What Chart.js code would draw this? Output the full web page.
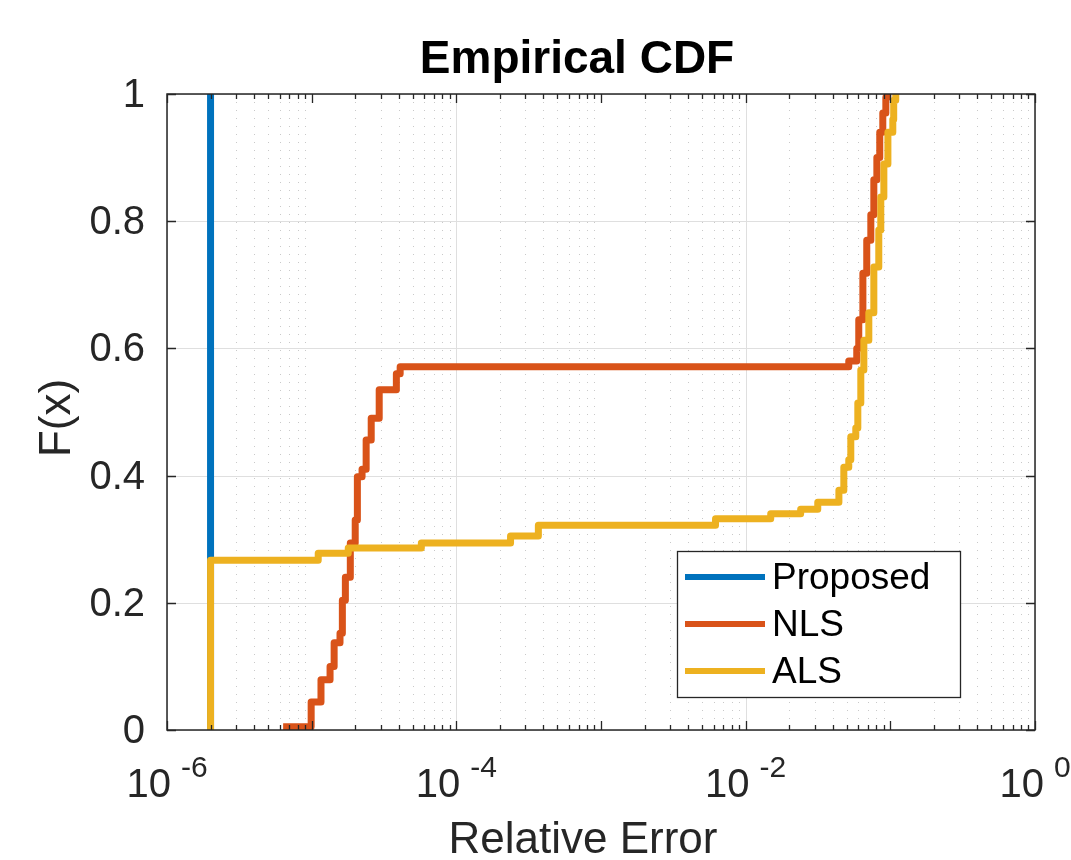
<!DOCTYPE html>
<html>
<head>
<meta charset="utf-8">
<title>Empirical CDF</title>
<script src="https://cdn.jsdelivr.net/npm/chart.js@4.4.1/dist/chart.umd.min.js"></script>
<style>
  body { margin: 0; background: #fff; }
  #wrap { width: 1071px; height: 860px; position: relative; }
</style>
</head>
<body>
<div id="wrap"><canvas id="cdfChart"></canvas></div>
<script>
// series: relative error (x) and F(x) after each step
const seriesNames = ['Proposed', 'NLS', 'ALS'];

const proposedErr = [2.0e-6, 2.0e-6];
const proposedF   = [0, 1];

const nlsErr = [6.35e-6, 9.92e-6, 1.16e-5, 1.34e-5, 1.43e-5, 1.57e-5, 1.63e-5, 1.71e-5,
                1.85e-5, 2.00e-5, 2.07e-5, 2.23e-5, 2.38e-5, 2.58e-5, 2.93e-5, 3.85e-5,
                4.09e-5, 5.16e-2, 5.86e-2, 6.05e-2, 6.46e-2, 6.87e-2, 7.33e-2, 7.69e-2,
                8.07e-2, 8.45e-2, 8.87e-2, 9.31e-2, 9.6e-2];
const nlsF   = [0.005, 0.044, 0.079, 0.100, 0.137, 0.152, 0.204, 0.240,
                0.294, 0.330, 0.398, 0.410, 0.456, 0.490, 0.535, 0.560,
                0.571, 0.580, 0.600, 0.645, 0.718, 0.770, 0.810, 0.865,
                0.900, 0.940, 0.970, 0.995, 1.0];

const alsErr = [2.0e-6, 2.0e-6, 1.11e-5, 1.79e-5, 5.73e-5, 2.37e-4, 3.69e-4, 6.19e-3,
                1.49e-2, 2.40e-2, 3.15e-2, 4.41e-2, 4.77e-2, 5.16e-2, 5.33e-2, 5.77e-2,
                5.96e-2, 6.25e-2, 6.56e-2, 7.10e-2, 7.69e-2, 8.32e-2, 8.59e-2, 9.02e-2,
                9.62e-2, 0.104, 0.1055, 0.109];
const alsF   = [0, 0.267, 0.278, 0.286, 0.294, 0.305, 0.322, 0.332,
                0.340, 0.347, 0.358, 0.377, 0.413, 0.425, 0.461, 0.475,
                0.514, 0.566, 0.613, 0.656, 0.728, 0.786, 0.838, 0.890,
                0.940, 0.960, 0.990, 1.0];

const xTickExps = [-6, -4, -2, 0];
const yTicks = [0, 0.2, 0.4, 0.6, 0.8, 1];

const colors = ['#0072BD', '#D95319', '#EDB120'];
const FONT = '"Liberation Sans", Arial, Helvetica, sans-serif';
const AXIS = '#262626';

function toPoints(xs, ys) {
    return xs.map((x, i) => ({ x: x, y: ys[i] }));
}

// grid, box, ticks and labels drawn like a MATLAB axes
const matlabAxes = {
    id: 'matlabAxes',
    beforeDatasetsDraw(chart) {
        const ctx = chart.ctx;
        const a = chart.chartArea;
        const xs = chart.scales.x, ys = chart.scales.y;
        ctx.save();
        // minor x grid (dotted)
        ctx.strokeStyle = 'rgba(38,38,38,0.25)';
        ctx.lineWidth = 1;
        ctx.setLineDash([1, 7]);
        for (let e = xTickExps[0]; e < xTickExps[xTickExps.length - 1]; e++) {
            for (let m = 2; m <= 9; m++) {
                const px = Math.round(xs.getPixelForValue(m * Math.pow(10, e))) + 0.5;
                ctx.beginPath(); ctx.moveTo(px, a.top); ctx.lineTo(px, a.bottom); ctx.stroke();
            }
        }
        // major grid
        ctx.setLineDash([]);
        ctx.strokeStyle = '#dfdfdf';
        xTickExps.forEach(e => {
            const px = Math.round(xs.getPixelForValue(Math.pow(10, e))) + 0.5;
            ctx.beginPath(); ctx.moveTo(px, a.top); ctx.lineTo(px, a.bottom); ctx.stroke();
        });
        yTicks.forEach(v => {
            const py = Math.round(ys.getPixelForValue(v)) + 0.5;
            ctx.beginPath(); ctx.moveTo(a.left, py); ctx.lineTo(a.right, py); ctx.stroke();
        });
        ctx.restore();
    },
    afterDraw(chart) {
        const ctx = chart.ctx;
        const a = chart.chartArea;
        const xs = chart.scales.x, ys = chart.scales.y;
        ctx.save();
        // box
        ctx.strokeStyle = AXIS;
        ctx.lineWidth = 1.5;
        ctx.strokeRect(a.left, a.top, a.right - a.left, a.bottom - a.top);
        // ticks
        ctx.lineWidth = 1.3;
        ctx.beginPath();
        for (let e = xTickExps[0]; e <= xTickExps[xTickExps.length - 1]; e++) {
            const px = Math.round(xs.getPixelForValue(Math.pow(10, e))) + 0.5;
            ctx.moveTo(px, a.bottom); ctx.lineTo(px, a.bottom - 9);
            ctx.moveTo(px, a.top); ctx.lineTo(px, a.top + 9);
            if (e === xTickExps[xTickExps.length - 1]) break;
            for (let m = 2; m <= 9; m++) {
                const qx = Math.round(xs.getPixelForValue(m * Math.pow(10, e))) + 0.5;
                ctx.moveTo(qx, a.bottom); ctx.lineTo(qx, a.bottom - 5);
                ctx.moveTo(qx, a.top); ctx.lineTo(qx, a.top + 5);
            }
        }
        yTicks.forEach(v => {
            const py = Math.round(ys.getPixelForValue(v)) + 0.5;
            ctx.moveTo(a.left, py); ctx.lineTo(a.left + 9, py);
            ctx.moveTo(a.right, py); ctx.lineTo(a.right - 9, py);
        });
        ctx.stroke();

        // y tick labels
        ctx.fillStyle = AXIS;
        ctx.font = '40px ' + FONT;
        ctx.textAlign = 'right';
        ctx.textBaseline = 'middle';
        yTicks.forEach(v => {
            ctx.fillText(String(v), 145, ys.getPixelForValue(v) + 2);
        });

        // x tick labels 10^e
        ctx.textBaseline = 'alphabetic';
        ctx.textAlign = 'left';
        xTickExps.forEach(e => {
            const px = xs.getPixelForValue(Math.pow(10, e));
            const exp = e === 0 ? '0' : '-' + Math.abs(e);
            ctx.font = '40px ' + FONT;
            const wBase = ctx.measureText('10').width;
            ctx.font = '30px ' + FONT;
            const wExp = ctx.measureText(exp).width;
            const total = wBase + 10 + wExp;
            const x0 = px - total / 2;
            ctx.font = '40px ' + FONT;
            ctx.fillText('10', x0, 797);
            ctx.font = '30px ' + FONT;
            ctx.fillText(exp, x0 + wBase + 10, 777);
        });

        // axis labels
        ctx.textAlign = 'center';
        ctx.font = '44px ' + FONT;
        ctx.fillText('Relative Error', 583, 853);
        ctx.save();
        ctx.translate(70, 418);
        ctx.rotate(-Math.PI / 2);
        ctx.fillText('F(x)', 0, 0);
        ctx.restore();

        // title
        ctx.fillStyle = '#000';
        ctx.font = 'bold 46px ' + FONT;
        ctx.fillText('Empirical CDF', 577, 73);

        // legend
        const lx = 677, ly = 551, lw = 283, lh = 146;
        ctx.fillStyle = '#fff';
        ctx.fillRect(lx, ly, lw, lh);
        ctx.strokeStyle = AXIS;
        ctx.lineWidth = 1.3;
        ctx.strokeRect(lx + 0.5, ly + 0.5, lw, lh);
        ctx.font = '37px ' + FONT;
        ctx.textAlign = 'left';
        ctx.textBaseline = 'middle';
        chart.data.datasets.forEach((ds, i) => {
            const yy = 577 + i * 47;
            ctx.strokeStyle = ds.borderColor;
            ctx.lineWidth = 6;
            ctx.beginPath(); ctx.moveTo(685, yy); ctx.lineTo(765, yy); ctx.stroke();
            ctx.fillStyle = '#000';
            ctx.fillText(ds.label, 772, yy + 2);
        });
        ctx.restore();
    }
};

const ctx = document.getElementById('cdfChart').getContext('2d');
const cdfChart = new Chart(ctx, {
    type: 'line',
    data: {
        datasets: [
            { label: seriesNames[0], data: toPoints(proposedErr, proposedF), borderColor: colors[0], order: 2 },
            { label: seriesNames[1], data: toPoints(nlsErr, nlsF), borderColor: colors[1], order: 1 },
            { label: seriesNames[2], data: toPoints(alsErr, alsF), borderColor: colors[2], order: 0 }
        ]
    },
    options: {
        responsive: true,
        maintainAspectRatio: false,
        animation: false,
        layout: { padding: { left: 167, top: 94, right: 36, bottom: 130 } },
        datasets: {
            line: {
                stepped: 'before',
                borderWidth: 7,
                pointRadius: 0,
                fill: false,
                clip: 0,
                borderJoinStyle: 'round'
            }
        },
        scales: {
            x: { type: 'logarithmic', min: 1e-6, max: 1, display: false },
            y: { type: 'linear', min: 0, max: 1, display: false }
        },
        plugins: {
            legend: { display: false },
            tooltip: { enabled: false },
            title: { display: false }
        }
    },
    plugins: [matlabAxes]
});
</script>
</body>
</html>
